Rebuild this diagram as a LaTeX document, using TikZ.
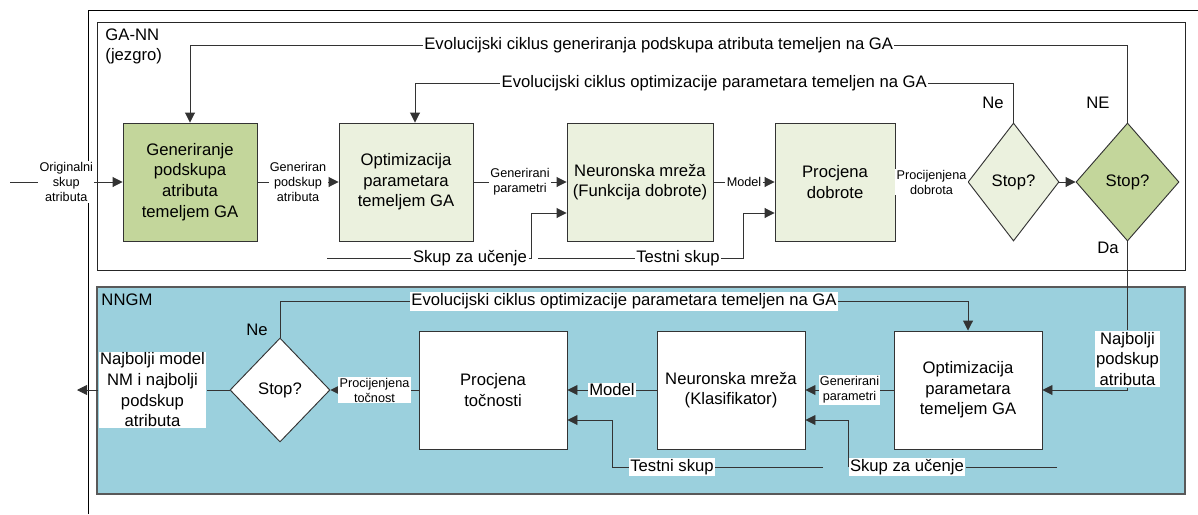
\documentclass[tikz,border=0pt]{standalone}
\usepackage{fontspec}
\setmainfont{Liberation Sans}
\usetikzlibrary{shapes.geometric,arrows.meta,calc}
\definecolor{gaDark}{RGB}{195,214,155}
\definecolor{gaLight}{RGB}{235,241,222}
\definecolor{nnBlue}{RGB}{155,208,221}
\newcommand{\fbig}{\fontsize{12.5}{15.5}\selectfont}
\newcommand{\fsmall}{\fontsize{9.5}{11.25}\selectfont}

\begin{document}
\begin{tikzpicture}[
    x=0.75pt, y=-0.75pt,
    line width=0.7pt,
    box/.style={draw=black!80,align=center,font=\fbig,inner sep=1pt,minimum height=88.5pt},
    stopbox/.style={diamond,draw=black!80,font=\fbig,inner sep=1pt},
    lbl/.style={fill=white,align=center,font=\fbig,inner sep=1pt},
    slbl/.style={fill=white,align=center,font=\fsmall,inner sep=1pt},
    conn/.style={draw=black!80,-{Triangle[length=7.5pt,width=7.5pt]}},
    plain/.style={draw=black!80}
    ]
    \useasboundingbox (0,0) rectangle (1198,514);
    % frames
    \draw[line width=0.6pt] (88,514) -- (88,10) -- (1198,10);
    \draw[draw=black!85,line width=0.6pt] (97,22) rectangle (1185,270);
    \draw[draw=black!65,fill=nnBlue,line width=1.1pt] (97,287) rectangle (1185,494);
    \node[font=\fbig,anchor=north west,align=left,inner sep=0pt] (gann) at (105,28) {GA-NN\\(jezgro)};
    \node[font=\fbig,anchor=west,inner sep=0pt] (nngm) at (101,300) {NNGM};

    % GA-NN (jezgro)
    \node[box,fill=gaDark,minimum width=100.5pt] (gen) at (190,182) {Generiranje\\podskupa\\atributa\\temeljem GA};
    \node[box,fill=gaLight,minimum width=100.5pt] (opt) at (406,182) {Optimizacija\\parametara\\temeljem GA};
    \node[box,fill=gaLight,minimum width=109.5pt] (nn) at (640,182) {Neuronska mreža\\(Funkcija dobrote)};
    \node[box,fill=gaLight,minimum width=90pt] (pd) at (835,182) {Procjena\\dobrote};
    \node[stopbox,fill=gaLight,minimum width=68.25pt,minimum height=88.5pt] (stopA) at (1013.5,182) {Stop?};
    \node[stopbox,fill=gaDark,minimum width=77.25pt,minimum height=88.5pt] (stopB) at (1127.5,182) {Stop?};
    \coordinate (src) at (10,182);

    \draw[conn] (src) -- node[slbl] (orig) {Originalni\\skup\\atributa} (gen.west);
    \draw[conn] (gen) -- node[slbl] (gsub) {Generiran\\podskup\\atributa} (opt);
    \draw[conn] (opt) -- node[slbl] (gpar) {Generirani\\parametri} (nn);
    \draw[conn] (nn) -- node[slbl] (mdl) {Model} (pd);
    \draw[conn] (pd) -- node[slbl] (pdob) {Procijenjena\\dobrota} (stopA);
    \draw[conn] (stopA) -- (stopB);

    \draw[conn] (stopB.north) -- ++(0,-77) -| node[lbl,pos=0.25] (cycA) {Evolucijski ciklus generiranja podskupa atributa temeljen na GA} (gen.north);
    \node[font=\fbig] (neA) at (1098,103) {NE};
    \draw[conn] (stopA.north) -- ++(0,-39) -| node[lbl,pos=0.25] (cycB) {Evolucijski ciklus optimizacije parametara temeljen na GA} ($(opt.north)+(9,0)$);
    \node[font=\fbig] (neB) at (993,103) {Ne};

    \coordinate (suA0) at (327,258);
    \node[lbl] (suA) at (470,258) {Skup za učenje};
    \draw[plain] (suA0) -- (suA.west);
    \draw[conn] (suA.east) -- ++(3,0) |- ($(nn.west)+(0,31)$);
    \coordinate (tsA0) at (538,258);
    \node[lbl] (tsA) at (678,258) {Testni skup};
    \draw[plain] (tsA0) -- (tsA.west);
    \draw[conn] (tsA.east) -- ++(22,0) |- ($(pd.west)+(0,31)$);

    \node[font=\fbig] (da) at (1108,248) {Da};

    % NNGM
    \node[lbl] (nps) at (1127.5,359) {Najbolji\\podskup\\atributa};
    \node[box,fill=white,minimum width=111pt] (opt2) at (968,390) {Optimizacija\\parametara\\temeljem GA};
    \node[box,fill=white,minimum width=111pt] (nn2) at (731,390) {Neuronska mreža\\(Klasifikator)};
    \node[box,fill=white,minimum width=111pt] (pt) at (493,390) {Procjena\\točnosti};
    \node[stopbox,fill=white,minimum width=75pt,minimum height=78pt] (stopC) at (280,390) {Stop?};
    \node[lbl] (best) at (152.5,390) {Najbolji model\\NM i najbolji\\podskup\\atributa};
    \coordinate (exit) at (77,390);

    \draw[plain] (stopB.south) -- (nps.north);
    \draw[conn] (nps.south) |- (opt2.east);
    \draw[conn] (opt2) -- node[slbl] (gpar2) {Generirani\\parametri} (nn2);
    \draw[conn] (nn2) -- node[lbl] (mdl2) {Model} (pt);
    \draw[conn] (pt) -- node[slbl] (ptoc) {Procijenjena\\točnost} (stopC);
    \draw[plain] (stopC) -- (best);
    \draw[conn] (best) -- (exit);

    \draw[conn] (stopC.north) -- ++(0,-36) -| node[lbl,pos=0.25] (cycC) {Evolucijski ciklus optimizacije parametara temeljen na GA} (opt2.north);
    \node[font=\fbig] (neC) at (257,330) {Ne};

    \coordinate (suB0) at (1057,467);
    \node[lbl] (suB) at (907,467) {Skup za učenje};
    \draw[plain] (suB0) -- (suB.east);
    \draw[conn] (suB.west) |- ($(nn2.east)+(0,30)$);
    \coordinate (tsB0) at (823,467);
    \node[lbl] (tsB) at (672,467) {Testni skup};
    \draw[plain] (tsB0) -- (tsB.east);
    \draw[conn] (tsB.west) -- ++(-16,0) |- ($(pt.east)+(0,30)$);
  \end{tikzpicture}
\end{document}
